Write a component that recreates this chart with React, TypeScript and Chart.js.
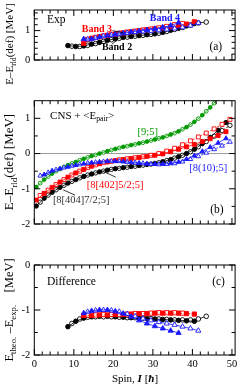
import React, { useEffect, useRef } from "react";
import { Chart, registerables } from "chart.js";
Chart.register(...registerables);

const FONT = "'Liberation Serif', 'Times New Roman', serif";
const BLACK = "#000000";
const RED = "#ff0000";
const BLUE = "#1a1aff";
const GREEN = "#009a00";
const GREY_TEXT = "#333333";

// ---------- axes ----------
const xTickLabels = [0, 10, 20, 30, 40, 50];
const xMinorTicks = [2, 4, 6, 8, 12, 14, 16, 18, 22, 24, 26, 28, 32, 34, 36, 38, 42, 44, 46, 48];
const aYLabels = [0, 1];
const aYMinor = [0.2, 0.4, 0.6, 0.8, 1.2, 1.4, 1.6];
const bYLabels = [-2, -1, 0, 1];
const bYMinor = [-1.5, -0.5, 0.5];
const cYLabels = [-2, -1, 0];
const cYMinor = [-1.5, -0.5];

// ---------- panel (a): experiment ----------
const aBlackFilledSpin = [8.5, 10.5, 12.5, 14.5, 16.5, 18.5, 20.5, 22.5, 24.5, 26.5, 28.5, 30.5, 32.5, 34.5, 36.5, 38.5, 40.5];
const aBlackFilledE = [0.49, 0.46, 0.48, 0.54, 0.6, 0.67, 0.72, 0.77, 0.8, 0.83, 0.86, 0.89, 0.94, 1.01, 1.08, 1.16, 1.24];
const aBlackOpenSpin = [9.5, 11.5, 13.5, 15.5, 17.5, 19.5, 21.5, 23.5, 25.5, 27.5, 29.5, 31.5, 33.5, 35.5, 37.5, 39.5, 41.5, 43.5];
const aBlackOpenE = [0.47, 0.46, 0.5, 0.56, 0.63, 0.69, 0.74, 0.78, 0.81, 0.84, 0.87, 0.91, 0.97, 1.04, 1.11, 1.19, 1.26, 1.29];
const aRedFilledSpin = [12.5, 14.5, 16.5, 18.5, 20.5, 22.5, 24.5, 26.5, 28.5, 30.5, 32.5, 34.5, 36.5, 38.5, 40.5];
const aRedFilledE = [0.57, 0.74, 0.79, 0.84, 0.88, 0.92, 0.96, 0.99, 1.03, 1.06, 1.09, 1.13, 1.17, 1.22, 1.3];
const aRedOpenSpin = [13.5, 15.5, 17.5, 19.5, 21.5, 23.5, 25.5, 27.5, 29.5, 31.5, 33.5, 35.5, 37.5];
const aRedOpenE = [0.7, 0.77, 0.82, 0.87, 0.91, 0.95, 0.98, 1.02, 1.05, 1.09, 1.14, 1.2, 1.24];
const aBlueFilledSpin = [12.5, 14.5, 16.5, 18.5, 20.5, 22.5, 24.5, 26.5, 28.5, 30.5, 32.5, 34.5, 36.5];
const aBlueFilledE = [0.71, 0.71, 0.78, 0.83, 0.87, 0.91, 0.95, 0.98, 1.02, 1.06, 1.11, 1.17, 1.27];
const aBlueOpenSpin = [13.5, 15.5, 17.5, 19.5, 21.5, 23.5, 25.5, 27.5, 29.5, 31.5, 33.5, 35.5, 37.5, 39.5, 41.5];
const aBlueOpenE = [0.7, 0.75, 0.81, 0.85, 0.89, 0.92, 0.95, 0.97, 0.99, 1.01, 1.04, 1.07, 1.11, 1.17, 1.26];

// ---------- panel (b): CNS + <E_pair> ----------
const bEvenSpin = [0.5, 2.5, 4.5, 6.5, 8.5, 10.5, 12.5, 14.5, 16.5, 18.5, 20.5, 22.5, 24.5, 26.5, 28.5, 30.5, 32.5, 34.5, 36.5, 38.5, 40.5, 42.5, 44.5, 46.5, 48.5];
const bOddSpin = [1.5, 3.5, 5.5, 7.5, 9.5, 11.5, 13.5, 15.5, 17.5, 19.5, 21.5, 23.5, 25.5, 27.5, 29.5, 31.5, 33.5, 35.5, 37.5, 39.5, 41.5, 43.5, 45.5, 47.5, 49.5];
const bBlackFilledE = [-1.49, -1.27, -1.1, -0.96, -0.84, -0.74, -0.65, -0.58, -0.52, -0.47, -0.43, -0.4, -0.37, -0.34, -0.31, -0.28, -0.23, -0.17, -0.09, 0.0, 0.12, 0.28, 0.46, 0.66, 0.88];
const bBlackOpenE = [-1.38, -1.18, -1.03, -0.9, -0.79, -0.69, -0.61, -0.55, -0.5, -0.45, -0.42, -0.39, -0.36, -0.33, -0.3, -0.26, -0.2, -0.13, -0.05, 0.05, 0.19, 0.34, 0.49, 0.65, 0.8];
const bRedFilledE = [-1.32, -1.13, -0.96, -0.81, -0.67, -0.55, -0.45, -0.36, -0.29, -0.24, -0.2, -0.17, -0.14, -0.11, -0.08, -0.05, -0.01, 0.05, 0.12, 0.19, 0.26, 0.34, 0.42, 0.51, 0.62];
const bRedOpenE = [-1.19, -1.04, -0.88, -0.74, -0.61, -0.5, -0.4, -0.32, -0.26, -0.22, -0.18, -0.15, -0.12, -0.09, -0.05, 0.0, 0.07, 0.15, 0.25, 0.36, 0.47, 0.58, 0.7, 0.83, 0.97];
const bGreenFilledE = [-0.95, -0.74, -0.57, -0.44, -0.33, -0.24, -0.15, -0.07, 0.0, 0.07, 0.13, 0.19, 0.24, 0.29, 0.34, 0.4, 0.46, 0.54, 0.63, 0.75, 0.9, 1.09, 1.31, 1.56];
const bGreenOpenE = [-0.84, -0.65, -0.5, -0.38, -0.28, -0.19, -0.11, -0.04, 0.03, 0.1, 0.16, 0.21, 0.26, 0.31, 0.37, 0.43, 0.5, 0.58, 0.69, 0.82, 0.99, 1.2, 1.43];
const bBlueFilledSpin = [2.5, 4.5, 6.5, 8.5, 10.5, 12.5, 14.5, 16.5, 18.5, 20.5, 22.5, 24.5, 26.5, 28.5, 30.5, 32.5, 34.5, 36.5, 38.5, 40.5, 42.5, 44.5, 46.5, 48.5];
const bBlueFilledE = [-0.6, -0.49, -0.43, -0.38, -0.33, -0.29, -0.26, -0.24, -0.22, -0.22, -0.23, -0.25, -0.27, -0.29, -0.3, -0.3, -0.28, -0.24, -0.16, -0.06, 0.06, 0.18, 0.3, 0.43];
const bBlueOpenE = [-0.63, -0.54, -0.46, -0.4, -0.35, -0.31, -0.27, -0.25, -0.23, -0.22, -0.22, -0.24, -0.26, -0.28, -0.3, -0.31, -0.3, -0.28, -0.23, -0.16, -0.08, 0.02, 0.12, 0.22, 0.33];

// ---------- panel (c): difference ----------
const cBlackFilledE = [-1.37, -1.25, -1.18, -1.15, -1.14, -1.14, -1.15, -1.16, -1.17, -1.18, -1.19, -1.2, -1.21, -1.22, -1.23, -1.24, -1.25];
const cBlackOpenE = [-1.3, -1.2, -1.16, -1.15, -1.15, -1.15, -1.16, -1.17, -1.17, -1.18, -1.19, -1.2, -1.21, -1.22, -1.22, -1.22, -1.2, -1.14];
const cRedFilledE = [-1.12, -1.12, -1.11, -1.11, -1.1, -1.1, -1.09, -1.08, -1.08, -1.07, -1.07, -1.07, -1.07, -1.08, -1.09];
const cRedOpenE = [-1.11, -1.11, -1.1, -1.1, -1.1, -1.09, -1.08, -1.08, -1.07, -1.06, -1.06, -1.06, -1.07];
const cBlueFilledE = [-1.07, -1.02, -1.0, -1.0, -1.03, -1.08, -1.15, -1.23, -1.3, -1.36, -1.41, -1.46, -1.51];
const cBlueOpenE = [-1.04, -1.01, -1.0, -1.01, -1.04, -1.09, -1.14, -1.19, -1.23, -1.27, -1.3, -1.33, -1.37, -1.41, -1.46];

// ---------- helpers ----------
type Seg = { t: string; sub?: boolean; it?: boolean; b?: boolean };
type Note = { x: number; y: number; segs: Seg[]; color: string; size: number; bold?: boolean };
type Leader = { x1: number; y1: number; x2: number; y2: number; color: string };

function series(xs: number[], ys: number[], color: string, style: string, filled: boolean, dashed: boolean, r: number) {
  return {
    data: ys.map((v, i) => ({ x: xs[i], y: v })),
    borderColor: color,
    borderWidth: 0.8,
    borderDash: dashed ? [2.5, 1.5] : [],
    pointStyle: style,
    pointRadius: r,
    pointBorderColor: color,
    pointBorderWidth: 0.9,
    pointBackgroundColor: filled ? color : "#ffffff",
    tension: 0,
    fill: false,
    clip: 0,
  };
}

function drawRich(ctx: CanvasRenderingContext2D, segs: Seg[], x: number, y: number, size: number, color: string, align: "left" | "center", rotate: boolean, bold = false) {
  ctx.save();
  ctx.translate(x, y);
  if (rotate) ctx.rotate(-Math.PI / 2);
  const fontFor = (s: Seg) => `${s.it ? "italic " : ""}${s.b || bold ? "bold " : ""}${s.sub ? size * 0.7 : size}px ${FONT}`;
  let total = 0;
  for (const s of segs) {
    ctx.font = fontFor(s);
    total += ctx.measureText(s.t).width;
  }
  let cx = align === "center" ? -total / 2 : 0;
  ctx.fillStyle = color;
  ctx.textBaseline = "middle";
  ctx.textAlign = "left";
  for (const s of segs) {
    ctx.font = fontFor(s);
    ctx.fillText(s.t, cx, s.sub ? size * 0.32 : 0);
    cx += ctx.measureText(s.t).width;
  }
  ctx.restore();
}

type PanelCfg = {
  id: string;
  top: number;
  height: number;
  padTop: number;
  padBottom: number;
  yMin: number;
  yMax: number;
  yLabels: number[];
  yMinor: number[];
  showX: boolean;
  zeroLine?: boolean;
  datasets: any[];
  notes: Note[];
  leaders: Leader[];
  yTitle: Seg[];
  yTitleY: number;
  yTitleSize: number;
  xTitle?: Seg[];
  xTitleY?: number;
};

function Panel({ cfg }: { cfg: PanelCfg }) {
  const ref = useRef<HTMLCanvasElement>(null);
  useEffect(() => {
    const plugin = {
      id: "deco_" + cfg.id,
      beforeDatasetsDraw(chart: any) {
        if (!cfg.zeroLine) return;
        const { ctx, chartArea: a, scales } = chart;
        const py = scales.y.getPixelForValue(0);
        ctx.save();
        ctx.strokeStyle = "#9a9a9a";
        ctx.lineWidth = 1;
        ctx.beginPath();
        ctx.moveTo(a.left, py);
        ctx.lineTo(a.right, py);
        ctx.stroke();
        ctx.restore();
      },
      afterDraw(chart: any) {
        const { ctx, chartArea: a, scales } = chart;
        const xs = scales.x;
        const ys = scales.y;
        ctx.save();
        ctx.strokeStyle = "#000";
        ctx.lineWidth = 1;
        ctx.strokeRect(a.left, a.top, a.right - a.left, a.bottom - a.top);
        ctx.beginPath();
        const xTick = (v: number, len: number) => {
          const px = xs.getPixelForValue(v);
          ctx.moveTo(px, a.bottom);
          ctx.lineTo(px, a.bottom - len);
          ctx.moveTo(px, a.top);
          ctx.lineTo(px, a.top + len);
        };
        const yTick = (v: number, len: number) => {
          const py = ys.getPixelForValue(v);
          ctx.moveTo(a.left, py);
          ctx.lineTo(a.left + len, py);
          ctx.moveTo(a.right, py);
          ctx.lineTo(a.right - len, py);
        };
        xTickLabels.forEach((v) => xTick(v, 6));
        xMinorTicks.forEach((v) => xTick(v, 3.5));
        cfg.yLabels.forEach((v) => yTick(v, 6));
        cfg.yMinor.forEach((v) => yTick(v, 3.5));
        ctx.stroke();
        ctx.lineWidth = 0.8;
        for (const l of cfg.leaders) {
          ctx.strokeStyle = l.color;
          ctx.beginPath();
          ctx.moveTo(xs.getPixelForValue(l.x1), ys.getPixelForValue(l.y1));
          ctx.lineTo(xs.getPixelForValue(l.x2), ys.getPixelForValue(l.y2));
          ctx.stroke();
        }
        ctx.restore();
        for (const n of cfg.notes) {
          drawRich(ctx, n.segs, xs.getPixelForValue(n.x), ys.getPixelForValue(n.y), n.size, n.color, "left", false, n.bold);
        }
        drawRich(ctx, cfg.yTitle, 10, cfg.yTitleY, cfg.yTitleSize, "#000", "center", true);
        if (cfg.xTitle) drawRich(ctx, cfg.xTitle, 135, cfg.xTitleY || 0, 11, "#000", "center", false);
      },
    };
    const chart = new Chart(ref.current as HTMLCanvasElement, {
      type: "line",
      data: { datasets: cfg.datasets },
      options: {
        animation: false,
        responsive: false,
        devicePixelRatio: 1,
        events: [],
        layout: { padding: { left: 0, right: 3.5, top: cfg.padTop, bottom: cfg.padBottom } },
        plugins: { legend: { display: false }, tooltip: { enabled: false } },
        scales: {
          x: {
            type: "linear",
            min: 0,
            max: 50.8,
            display: cfg.showX,
            grid: { display: false, drawTicks: false },
            border: { display: false },
            ticks: { font: { family: FONT, size: 10.5 }, color: "#000", padding: 3, maxRotation: 0, autoSkip: false, callback: (v: any) => String(v) },
            afterBuildTicks: (s: any) => {
              s.ticks = xTickLabels.map((v) => ({ value: v }));
            },
            afterFit: (s: any) => {
              s.height = 31;
              s.paddingLeft = 0;
              s.paddingRight = 0;
            },
          },
          y: {
            type: "linear",
            min: cfg.yMin,
            max: cfg.yMax,
            grid: { display: false, drawTicks: false },
            border: { display: false },
            ticks: { font: { family: FONT, size: 10.5 }, color: "#000", padding: 4, callback: (v: any) => String(v) },
            afterBuildTicks: (s: any) => {
              s.ticks = cfg.yLabels.map((v) => ({ value: v }));
            },
            afterFit: (s: any) => {
              s.width = 34.3;
              s.paddingTop = 0;
              s.paddingBottom = 0;
            },
          },
        },
      } as any,
      plugins: [plugin],
    });
    return () => chart.destroy();
  }, []);
  return (
    <canvas
      ref={ref}
      width={240}
      height={cfg.height}
      style={{ position: "absolute", left: 0, top: cfg.top, width: 240, height: cfg.height }}
    />
  );
}

const eTitle: Seg[] = [{ t: "E\u2013E" }, { t: "rld", sub: true }, { t: "(def) [MeV]" }];

const panelA: PanelCfg = {
  id: "a",
  top: 0,
  height: 100,
  padTop: 10,
  padBottom: 9,
  yMin: 0,
  yMax: 1.7,
  yLabels: aYLabels,
  yMinor: aYMinor,
  showX: false,
  datasets: [
    series(aBlueFilledSpin, aBlueFilledE, BLUE, "triangle", true, false, 3),
    series(aBlueOpenSpin, aBlueOpenE, BLUE, "triangle", false, false, 3),
    series(aRedFilledSpin, aRedFilledE, RED, "rect", true, false, 3),
    series(aRedOpenSpin, aRedOpenE, RED, "rect", false, false, 3),
    series(aBlackFilledSpin, aBlackFilledE, BLACK, "circle", true, false, 2.3),
    series(aBlackOpenSpin, aBlackOpenE, BLACK, "circle", false, false, 2.3),
  ],
  notes: [
    { x: 3.2, y: 1.37, segs: [{ t: "Exp" }], color: "#000", size: 11.5 },
    { x: 44.3, y: 0.44, segs: [{ t: "(a)" }], color: "#000", size: 11.5 },
    { x: 29.2, y: 1.41, segs: [{ t: "Band 4" }], color: BLUE, size: 10, bold: true },
    { x: 12.0, y: 1.03, segs: [{ t: "Band 3" }], color: RED, size: 10, bold: true },
    { x: 17.1, y: 0.42, segs: [{ t: "Band 2" }], color: "#000", size: 10, bold: true },
  ],
  leaders: [
    { x1: 19.8, y1: 1.0, x2: 22.6, y2: 0.92, color: "#000" },
    { x1: 19.6, y1: 0.53, x2: 20.8, y2: 0.67, color: "#000" },
  ],
  yTitle: eTitle,
  yTitleY: 44,
  yTitleSize: 11,
};

const panelB: PanelCfg = {
  id: "b",
  top: 92,
  height: 170,
  padTop: 8.7,
  padBottom: 7,
  yMin: -2,
  yMax: 1.5,
  yLabels: bYLabels,
  yMinor: bYMinor,
  showX: false,
  zeroLine: true,
  datasets: [
    series(bBlueFilledSpin, bBlueFilledE, BLUE, "triangle", true, false, 2.7),
    series(bOddSpin, bBlueOpenE, BLUE, "triangle", false, true, 2.7),
    series(bEvenSpin, bRedFilledE, RED, "rect", true, false, 2.8),
    series(bOddSpin, bRedOpenE, RED, "rect", false, true, 2.8),
    series(bEvenSpin, bBlackFilledE, BLACK, "circle", true, false, 2.2),
    series(bOddSpin, bBlackOpenE, BLACK, "circle", false, true, 2.2),
    series(bEvenSpin.slice(0, bGreenFilledE.length), bGreenFilledE, GREEN, "circle", true, false, 1.9),
    series(bOddSpin.slice(0, bGreenOpenE.length), bGreenOpenE, GREEN, "circle", false, true, 1.9),
  ],
  notes: [
    { x: 4.0, y: 1.07, segs: [{ t: "CNS + <E" }, { t: "pair", sub: true }, { t: ">" }], color: "#000", size: 11 },
    { x: 26.1, y: 0.61, segs: [{ t: "[9;5]" }], color: GREEN, size: 10.5 },
    { x: 39.2, y: -0.41, segs: [{ t: "[8(10);5]" }], color: BLUE, size: 10.5 },
    { x: 13.3, y: -0.91, segs: [{ t: "[8[402]5/2;5]" }], color: RED, size: 10.5 },
    { x: 4.7, y: -1.34, segs: [{ t: "[8[404]7/2;5]" }], color: GREY_TEXT, size: 10.5 },
    { x: 44.5, y: -1.61, segs: [{ t: "(b)" }], color: "#000", size: 11.5 },
  ],
  leaders: [
    { x1: 17.3, y1: -0.5, x2: 20.6, y2: -0.67, color: "#000" },
    { x1: 7.3, y1: -1.03, x2: 10.3, y2: -1.18, color: "#000" },
  ],
  yTitle: eTitle,
  yTitleY: 162 - 92,
  yTitleSize: 13,
};

const cBlackFilledSpin = aBlackFilledSpin;
const cBlackOpenSpin = aBlackOpenSpin;

const panelC: PanelCfg = {
  id: "c",
  top: 256,
  height: 130,
  padTop: 9,
  padBottom: 0,
  yMin: -2,
  yMax: 0,
  yLabels: cYLabels,
  yMinor: cYMinor,
  showX: true,
  datasets: [
    series(aBlueFilledSpin, cBlueFilledE, BLUE, "triangle", true, false, 3),
    series(aBlueOpenSpin, cBlueOpenE, BLUE, "triangle", false, false, 3),
    series(aRedFilledSpin, cRedFilledE, RED, "rect", true, true, 3),
    series(aRedOpenSpin, cRedOpenE, RED, "rect", false, true, 3),
    series(cBlackFilledSpin, cBlackFilledE, BLACK, "circle", true, false, 2.3),
    series(cBlackOpenSpin, cBlackOpenE, BLACK, "circle", false, false, 2.3),
  ],
  notes: [
    { x: 3.2, y: -0.38, segs: [{ t: "Difference" }], color: "#000", size: 11.5 },
    { x: 45, y: -0.38, segs: [{ t: "(c)" }], color: "#000", size: 11.5 },
  ],
  leaders: [],
  yTitle: [{ t: "E" }, { t: "theo.", sub: true }, { t: " \u2013E" }, { t: "exp.", sub: true }, { t: "    [MeV]" }],
  yTitleY: 310 - 256,
  yTitleSize: 12.5,
  xTitle: [{ t: "Spin, " }, { t: "I", it: true, b: true }, { t: " [" }, { t: "\u0127", it: true, b: true }, { t: "]" }],
  xTitleY: 379 - 256,
};

export default function App() {
  return (
    <div style={{ position: "absolute", left: 0, top: 0, width: 240, height: 386, background: "#fff", overflow: "hidden" }}>
      <Panel cfg={panelA} />
      <Panel cfg={panelB} />
      <Panel cfg={panelC} />
    </div>
  );
}
